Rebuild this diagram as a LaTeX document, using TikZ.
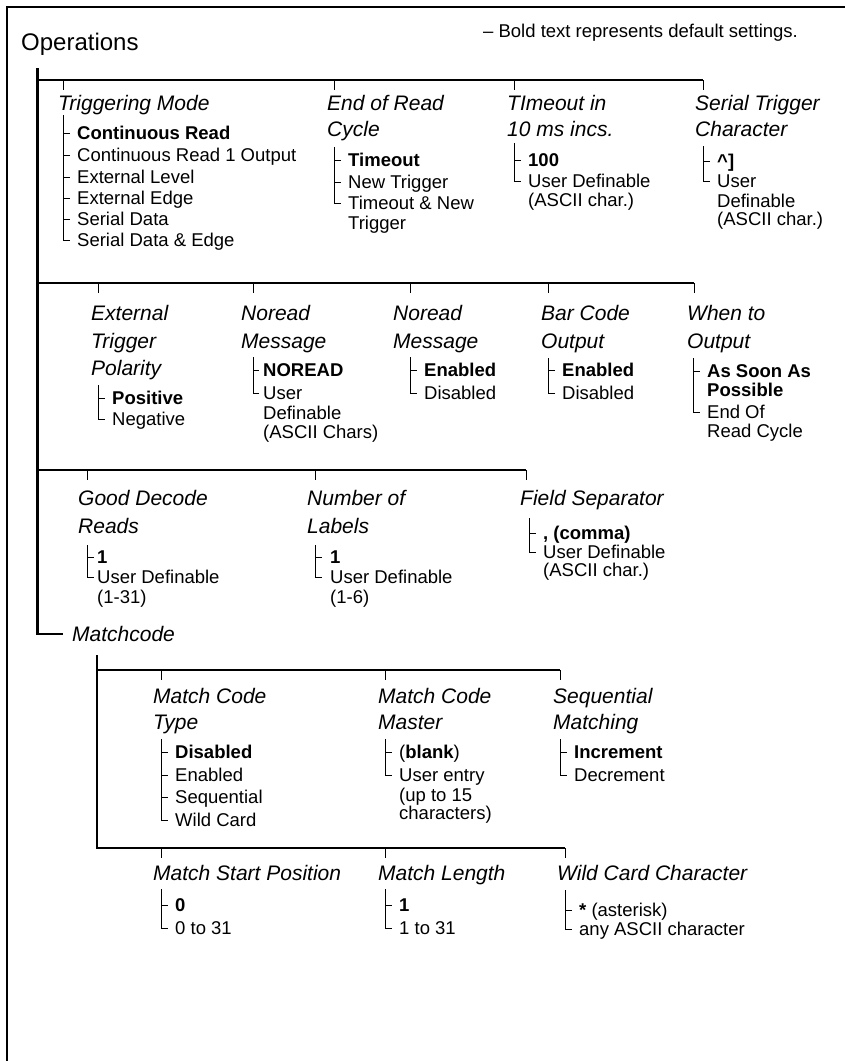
\documentclass[tikz,border=0pt]{standalone}
\usepackage{fontspec}
\setmainfont{Liberation Sans}
\newcommand{\optfont}{\fontsize{18.5}{20}\selectfont}
\newcommand{\headfont}{\fontsize{21}{26}\selectfont\itshape}

\begin{document}
\begin{tikzpicture}[x=1pt, y=-1pt,
  head/.style={anchor=west, inner sep=0pt, font=\headfont, text height=17pt, text depth=2pt},
  opt/.style={anchor=west, inner ysep=0pt, inner xsep=7pt, font=\optfont, text height=15pt, text depth=2.5pt},
  bar/.style={line width=2.2pt},
  twig/.style={line width=0.8pt}]
  \useasboundingbox (0,0) rectangle (845,1061);

  % ---- page frame + title ----
  \draw[line width=1.2pt] (7,1061) -- (7,7) -- (845,7);
  \node[anchor=west, inner sep=0pt, font=\fontsize{24}{28}\selectfont, text height=19pt, text depth=2pt] (ops) at (21,42) {Operations};
  \node[anchor=west, inner sep=0pt, font=\optfont] (note) at (483,33) {– Bold text represents default settings.};

  % ---- trunk ----
  \draw[bar] (37.5,68) -- (37.5,634) -- (63,634);
  \node[head] (mc) at (72,634) {Matchcode};

  % ---- row 1 ----
  \draw[bar] (37.5,80) -- (703,80);
  \foreach \x in {63,334,514,703} \draw[twig] (\x,80) -- ++(0,10);
  \node[head] (trigH) at (58,103) {Triggering Mode};
  \node[head] (eorH) at (327,103) {End of Read};
  \node[head] (eorH2) at (327,129) {Cycle};
  \node[head] (toH) at (507,103) {TImeout in};
  \node[head] (toH2) at (507,129) {10 ms incs.};
  \node[head] (stcH) at (695,103) {Serial Trigger};
  \node[head] (stcH2) at (695,129) {Character};

  \coordinate (trigT) at (63,115);
  \node[opt] (trig1) at (70,133) {\textbf{Continuous Read}};
  \node[opt] (trig2) at (70,155) {Continuous Read 1 Output};
  \node[opt] (trig3) at (70,177) {External Level};
  \node[opt] (trig4) at (70,198) {External Edge};
  \node[opt] (trig5) at (70,219) {Serial Data};
  \node[opt] (trig6) at (70,240) {Serial Data \& Edge};
  \foreach \n in {trig1,trig2,trig3,trig4,trig5} \draw[twig] (\n.west -| trigT) -- (\n.west);
  \draw[twig] (trigT) |- (trig6.west);

  \coordinate (eorT) at (334,147);
  \node[opt] (eor1) at (341,160) {\textbf{Timeout}};
  \node[opt] (eor2) at (341,182) {New Trigger};
  \node[opt] (eor3) at (341,203) {Timeout \& New};
  \node[opt] (eor3b) at (341,223) {Trigger};
  \foreach \n in {eor1,eor2} \draw[twig] (\n.west -| eorT) -- (\n.west);
  \draw[twig] (eorT) |- (eor3.west);

  \coordinate (toT) at (514,143);
  \node[opt] (to1) at (521,160) {\textbf{100}};
  \node[opt] (to2) at (521,181) {User Definable};
  \node[opt] (to2b) at (521,200) {(ASCII char.)};
  \draw[twig] (to1.west -| toT) -- (to1.west);
  \draw[twig] (toT) |- (to2.west);

  \coordinate (stcT) at (703,146);
  \node[opt] (stc1) at (710,161) {\textbf{\textasciicircum]}};
  \node[opt] (stc2) at (710,181) {User};
  \node[opt] (stc2b) at (710,201) {Definable};
  \node[opt] (stc2c) at (710,219) {(ASCII char.)};
  \draw[twig] (stc1.west -| stcT) -- (stc1.west);
  \draw[twig] (stcT) |- (stc2.west);

  % ---- row 2 ----
  \draw[bar] (37.5,283) -- (694,283);
  \foreach \x in {98,253,410,548,694} \draw[twig] (\x,283) -- ++(0,10);
  \node[head] (extH) at (91,313) {External};
  \node[head] (extH2) at (91,341) {Trigger};
  \node[head] (extH3) at (91,368) {Polarity};
  \node[head] (nrmH) at (241,313) {Noread};
  \node[head] (nrmH2) at (241,341) {Message};
  \node[head] (nreH) at (393,313) {Noread};
  \node[head] (nreH2) at (393,341) {Message};
  \node[head] (bcoH) at (541,313) {Bar Code};
  \node[head] (bcoH2) at (541,341) {Output};
  \node[head] (wtoH) at (687,313) {When to};
  \node[head] (wtoH2) at (687,341) {Output};

  \coordinate (extT) at (98,385);
  \node[opt] (ext1) at (105,398) {\textbf{Positive}};
  \node[opt] (ext2) at (105,419) {Negative};
  \draw[twig] (ext1.west -| extT) -- (ext1.west);
  \draw[twig] (extT) |- (ext2.west);

  \coordinate (nrmT) at (253,357);
  \node[opt, inner xsep=4pt] (nrm1) at (259,370) {\textbf{NOREAD}};
  \node[opt, inner xsep=4pt] (nrm2) at (259,393) {User};
  \node[opt, inner xsep=4pt] (nrm2b) at (259,413) {Definable};
  \node[opt, inner xsep=4pt] (nrm2c) at (259,432) {(ASCII Chars)};
  \draw[twig] (nrm1.west -| nrmT) -- (nrm1.west);
  \draw[twig] (nrmT) |- (nrm2.west);

  \coordinate (nreT) at (410,357);
  \node[opt] (nre1) at (417,370) {\textbf{Enabled}};
  \node[opt] (nre2) at (417,393) {Disabled};
  \draw[twig] (nre1.west -| nreT) -- (nre1.west);
  \draw[twig] (nreT) |- (nre2.west);

  \coordinate (bcoT) at (548,358);
  \node[opt] (bco1) at (555,370) {\textbf{Enabled}};
  \node[opt] (bco2) at (555,393) {Disabled};
  \draw[twig] (bco1.west -| bcoT) -- (bco1.west);
  \draw[twig] (bcoT) |- (bco2.west);

  \coordinate (wtoT) at (693,358);
  \node[opt] (wto1) at (700,371) {\textbf{As Soon As}};
  \node[opt] (wto1b) at (700,390) {\textbf{Possible}};
  \node[opt] (wto2) at (700,412) {End Of};
  \node[opt] (wto2b) at (700,431) {Read Cycle};
  \draw[twig] (wto1.west -| wtoT) -- (wto1.west);
  \draw[twig] (wtoT) |- (wto2.west);

  % ---- row 3 ----
  \draw[bar] (37.5,470) -- (526,470);
  \foreach \x in {87,315,526} \draw[twig] (\x,470) -- ++(0,10);
  \node[head] (gdrH) at (78,498) {Good Decode};
  \node[head] (gdrH2) at (78,526) {Reads};
  \node[head] (nolH) at (307,498) {Number of};
  \node[head] (nolH2) at (307,526) {Labels};
  \node[head] (fsH) at (520,498) {Field Separator};

  \coordinate (gdrT) at (87,545);
  \node[opt, inner xsep=3pt] (gdr1) at (94,557) {\textbf{1}};
  \node[opt, inner xsep=3pt] (gdr2) at (94,577) {User Definable};
  \node[opt, inner xsep=3pt] (gdr2b) at (94,597) {(1-31)};
  \draw[twig] (gdr1.west -| gdrT) -- (gdr1.west);
  \draw[twig] (gdrT) |- (gdr2.west);

  \coordinate (nolT) at (315,545);
  \node[opt, inner xsep=8pt] (nol1) at (322,557) {\textbf{1}};
  \node[opt, inner xsep=8pt] (nol2) at (322,577) {User Definable};
  \node[opt, inner xsep=8pt] (nol2b) at (322,597) {(1-6)};
  \draw[twig] (nol1.west -| nolT) -- (nol1.west);
  \draw[twig] (nolT) |- (nol2.west);

  \coordinate (fsT) at (529,518);
  \node[opt] (fs1) at (536,533) {\textbf{, (comma)}};
  \node[opt] (fs2) at (536,552) {User Definable};
  \node[opt] (fs2b) at (536,570) {(ASCII char.)};
  \draw[twig] (fs1.west -| fsT) -- (fs1.west);
  \draw[twig] (fsT) |- (fs2.west);

  % ---- matchcode branch ----
  \draw[bar] (97,655) -- (97,848) -- (565,848);
  \draw[bar] (97,670) -- (560,670);
  \foreach \x in {161,385,560} \draw[twig] (\x,670) -- ++(0,10);
  \foreach \x in {161,385,565} \draw[twig] (\x,848) -- ++(0,10);
  \node[head] (mctH) at (153,696) {Match Code};
  \node[head] (mctH2) at (153,722) {Type};
  \node[head] (mcmH) at (378,696) {Match Code};
  \node[head] (mcmH2) at (378,722) {Master};
  \node[head] (sqmH) at (553,696) {Sequential};
  \node[head] (sqmH2) at (553,722) {Matching};

  \coordinate (mctT) at (161,739);
  \node[opt] (mct1) at (168,752) {\textbf{Disabled}};
  \node[opt] (mct2) at (168,775) {Enabled};
  \node[opt] (mct3) at (168,797) {Sequential};
  \node[opt] (mct4) at (168,820) {Wild Card};
  \foreach \n in {mct1,mct2,mct3} \draw[twig] (\n.west -| mctT) -- (\n.west);
  \draw[twig] (mctT) |- (mct4.west);

  \coordinate (mcmT) at (385,739);
  \node[opt] (mcm1) at (392,752) {(\textbf{blank})};
  \node[opt] (mcm2) at (392,775) {User entry};
  \node[opt] (mcm2b) at (392,795) {(up to 15};
  \node[opt] (mcm2c) at (392,813) {characters)};
  \draw[twig] (mcm1.west -| mcmT) -- (mcm1.west);
  \draw[twig] (mcmT) |- (mcm2.west);

  \coordinate (sqmT) at (560,739);
  \node[opt] (sqm1) at (567,752) {\textbf{Increment}};
  \node[opt] (sqm2) at (567,775) {Decrement};
  \draw[twig] (sqm1.west -| sqmT) -- (sqm1.west);
  \draw[twig] (sqmT) |- (sqm2.west);

  % ---- row 5 ----
  \node[head] (mspH) at (153,873) {Match Start Position};
  \node[head] (mlnH) at (378,873) {Match Length};
  \node[head] (wccH) at (557,873) {Wild Card Character};

  \coordinate (mspT) at (161,889);
  \node[opt] (msp1) at (168,905) {\textbf{0}};
  \node[opt] (msp2) at (168,928) {0 to 31};
  \draw[twig] (msp1.west -| mspT) -- (msp1.west);
  \draw[twig] (mspT) |- (msp2.west);

  \coordinate (mlnT) at (385,889);
  \node[opt] (mln1) at (392,905) {\textbf{1}};
  \node[opt] (mln2) at (392,928) {1 to 31};
  \draw[twig] (mln1.west -| mlnT) -- (mln1.west);
  \draw[twig] (mlnT) |- (mln2.west);

  \coordinate (wccT) at (565,890);
  \node[opt] (wcc1) at (572,910) {\textbf{*} (asterisk)};
  \node[opt] (wcc2) at (572,929) {any ASCII character};
  \draw[twig] (wcc1.west -| wccT) -- (wcc1.west);
  \draw[twig] (wccT) |- (wcc2.west);
\end{tikzpicture}
\end{document}
